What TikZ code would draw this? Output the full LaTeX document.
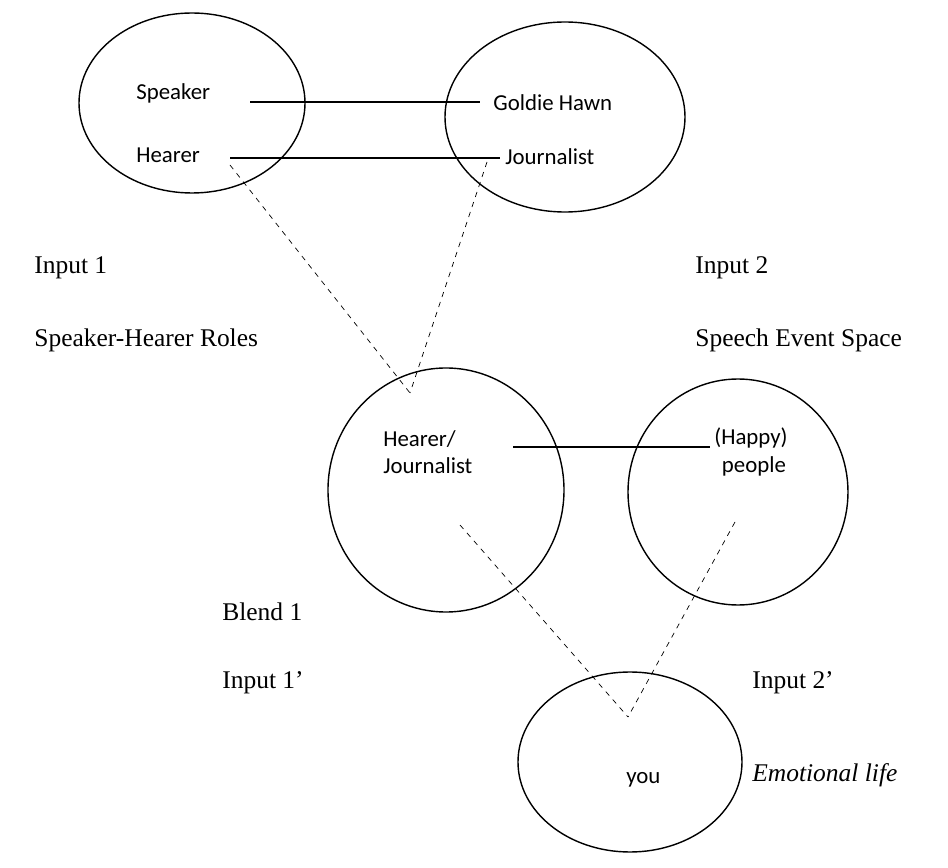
\documentclass[tikz,border=0pt]{standalone}
\usepackage{fontspec}
\setmainfont{Liberation Serif}
\newfontfamily\calib{Carlito}
\begin{document}
\begin{tikzpicture}[x=0.02cm,y=-0.02cm,
  item/.style={anchor=west,inner sep=0pt,font=\calib\fontsize{13}{15.5}\selectfont},
  label/.style={anchor=west,inner sep=0pt,font=\fontsize{14.5}{17}\selectfont}]
\useasboundingbox (0,0) rectangle (948,868);
\begin{scope}
\draw[thick] (192,103) ellipse (113 and 90);
\draw[thick] (565,117) ellipse (120 and 95);
\draw[thick] (446,490) ellipse (118 and 122);
\draw[thick] (738,492) ellipse (110 and 113);
\draw[thick] (630,762) ellipse (112 and 90);
\node (SP) at (136,93) [item] {Speaker};
\node (HE) at (136,155) [item] {Hearer};
\node (GH) at (493,103) [item] {Goldie Hawn};
\node (JO) at (505,157) [item] {Journalist};
\node (HJ) at (383,452) [item,align=left] {Hearer/\\Journalist};
\node (HP) at (714,452) [item,align=left] {(Happy)\\\,\,people};
\node (YO) at (626,780) [item] {you};
\node (I1) at (34,268) [label] {Input 1};
\node (R1) at (34,340) [label] {Speaker-Hearer Roles};
\node (I2) at (695,268) [label] {Input 2};
\node (R2) at (695,340) [label] {Speech Event Space};
\node (B1) at (222,612) [label] {Blend 1};
\node (I1p) at (222,683) [label] {Input 1'};
\node (I2p) at (752,683) [label] {Input 2'};
\node (EL) at (752,775) [label,font=\itshape\fontsize{14.5}{17}\selectfont] {Emotional life};
\coordinate (sp) at (250,102);
\coordinate (gh) at (480,102);
\coordinate (he) at (230,158);
\coordinate (jo) at (500,158);
\coordinate (hed) at (230,165);
\coordinate (jod) at (487,162);
\coordinate (MB) at (410,393);
\coordinate (hj) at (513,447);
\coordinate (hp) at (710,447);
\coordinate (hjd) at (460,525);
\coordinate (hpd) at (735,522);
\coordinate (YB) at (628,717);
\draw[semithick] (sp) -- (gh);
\draw[semithick] (he) -- (jo);
\draw[dashed] (hed) -- (MB);
\draw[dashed] (jod) -- (MB);
\draw[semithick] (hj) -- (hp);
\draw[dashed] (hjd) -- (YB);
\draw[dashed] (hpd) -- (YB);
\end{scope}
\end{tikzpicture}
\end{document}
